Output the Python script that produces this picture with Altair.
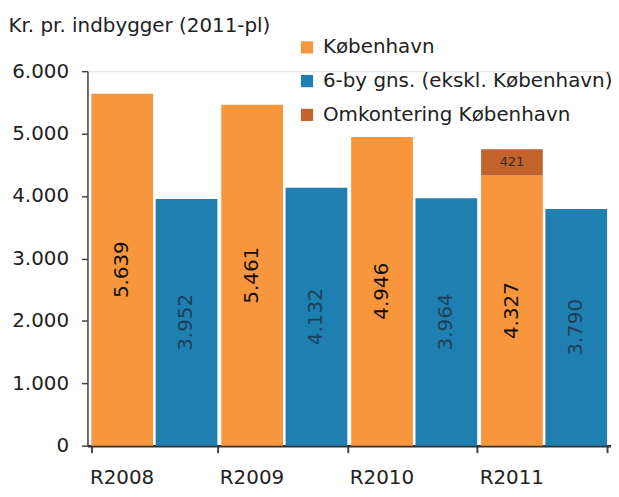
import altair as alt
import pandas as pd

years = ["R2008", "R2009", "R2010", "R2011"]
kbh = [5639, 5461, 4946, 4327]
six_by = [3952, 4132, 3964, 3790]
omk = [0, 0, 0, 421]

series_names = ["København", "6-by gns. (ekskl. København)", "Omkontering København"]
series_colors = ["#F8963E", "#1F7FB1", "#C4622E"]

rows = []
for i, yr in enumerate(years):
    rows.append(dict(year=yr, series=series_names[0], slot="a", start=0, end=kbh[i], value=kbh[i]))
    rows.append(dict(year=yr, series=series_names[1], slot="b", start=0, end=six_by[i], value=six_by[i]))
    if omk[i] > 0:
        rows.append(dict(year=yr, series=series_names[2], slot="a", start=kbh[i],
                         end=kbh[i] + omk[i], value=omk[i]))
df = pd.DataFrame(rows)

FONT = "DejaVu Sans"
FS = 20

base = alt.Chart(df).transform_calculate(
    mid="(datum.start + datum.end) / 2",
    label="replace(format(datum.value, ','), ',', '.')",
)

x_enc = alt.X(
    "year:N",
    sort=years,
    scale=alt.Scale(paddingInner=0.03, paddingOuter=0.03),
    axis=alt.Axis(
        title=None, labelAngle=0, labelFontSize=FS, labelFont=FONT, labelColor="#222",
        labelOffset=-33, tickBand="extent", tickSize=7, tickWidth=2, tickColor="#444",
        domainColor="#333", domainWidth=2.5, labelPadding=15,
    ),
)
xoff = alt.XOffset("slot:N", scale=alt.Scale(paddingInner=0.04))

bars = base.mark_bar().encode(
    x=x_enc,
    xOffset=xoff,
    y=alt.Y(
        "start:Q",
        scale=alt.Scale(domain=[0, 6000], nice=False),
        axis=alt.Axis(
            values=[0, 1000, 2000, 3000, 4000, 5000, 6000],
            labelExpr="replace(format(datum.value, ','), ',', '.')",
            labelFontSize=FS, labelFont=FONT, labelColor="#222", labelPadding=13,
            tickSize=6, tickColor="#444", tickWidth=1.5, domainColor="#444", domainWidth=1.5,
            grid=False,
            title="Kr. pr. indbygger (2011-pl)", titleAngle=0, titleFont=FONT,
            titleFontSize=FS, titleFontWeight="normal", titleColor="#222",
            titleAlign="left", titleBaseline="middle", titleX=-80, titleY=-46,
        ),
    ),
    y2="end:Q",
    color=alt.Color(
        "series:N",
        scale=alt.Scale(domain=series_names, range=series_colors),
        legend=alt.Legend(
            title=None, orient="none", legendX=211, legendY=-34,
            labelFont=FONT, labelFontSize=FS, labelColor="#222",
            symbolType="square", symbolSize=150, symbolStrokeWidth=0,
            rowPadding=14, labelOffset=6, labelLimit=400,
        ),
    ),
)

labels_main = base.transform_filter(
    "datum.series != 'Omkontering København'"
).mark_text(angle=270, fontSize=FS, font=FONT).encode(
    x=alt.X("year:N", sort=years),
    xOffset=xoff,
    y=alt.Y("mid:Q"),
    text="label:N",
    color=alt.Color(
        "series:N",
        scale=alt.Scale(domain=series_names[:2], range=["#111111", "#1d3f5c"]),
        legend=None,
    ),
)

labels_omk = base.transform_filter(
    "datum.series == 'Omkontering København'"
).mark_text(fontSize=13, font=FONT, color="#3a2a1a").encode(
    x=alt.X("year:N", sort=years),
    xOffset=xoff,
    y=alt.Y("mid:Q"),
    text="label:N",
)

chart = alt.layer(bars, labels_main, labels_omk).resolve_scale(color="independent").properties(
    width=527,
    height=377,
    autosize=alt.AutoSizeParams(type="none"),
    padding={"left": 80, "top": 62, "right": 0, "bottom": 42},
).configure_view(stroke=None).configure(background="white")

chart.save("out.html", embed_options={"renderer": "svg", "actions": False})
